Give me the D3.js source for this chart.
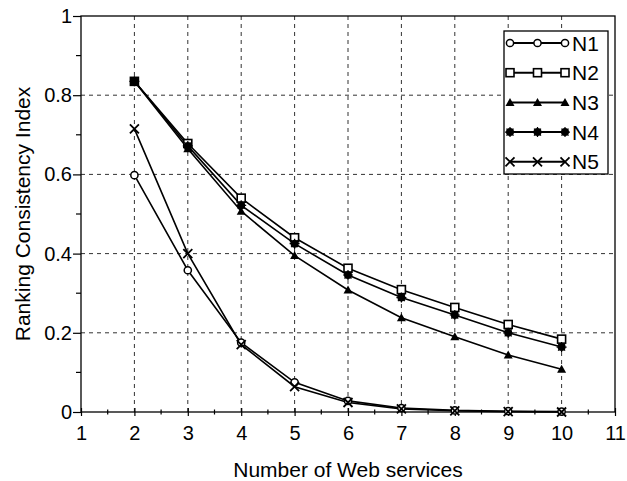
<!DOCTYPE html>
<meta charset="utf-8">
<style>
  body { margin: 0; background: #fff; }
  svg { font-family: "Liberation Sans", Arial, sans-serif; }
  .grid line { stroke: #333; stroke-dasharray: 4,4; stroke-width: 1; }
  .curve { fill: none; stroke: #000; stroke-width: 1.6; }
</style>
<body>
<script src="https://d3js.org/d3.v7.min.js"></script>
<script>
var xs = [2, 3, 4, 5, 6, 7, 8, 9, 10];
var n1 = [0.598, 0.358, 0.175, 0.075, 0.028, 0.010, 0.004, 0.002, 0.001];
var n2 = [0.835, 0.678, 0.540, 0.440, 0.363, 0.309, 0.264, 0.221, 0.184];
var n3 = [0.835, 0.665, 0.507, 0.395, 0.308, 0.238, 0.190, 0.144, 0.108];
var n4 = [0.835, 0.672, 0.522, 0.425, 0.346, 0.289, 0.245, 0.200, 0.164];
var n5 = [0.715, 0.400, 0.170, 0.064, 0.024, 0.008, 0.003, 0.001, 0.000];
var names = ["N1", "N2", "N3", "N4", "N5"];
var symbols = ["circle", "square", "triangle", "dot", "cross"];
var xTicks = [1, 2, 3, 4, 5, 6, 7, 8, 9, 10, 11];
var yTicks = [0, 0.2, 0.4, 0.6, 0.8, 1];

var width = 627, height = 481;
var pL = 81, pR = 615, pT = 16, pB = 412;

var x = d3.scaleLinear().domain([1, 11]).range([pL, pR]);
var y = d3.scaleLinear().domain([0, 1]).range([pB, pT]);

var svg = d3.select("body").append("svg")
    .attr("width", width)
    .attr("height", height);

// grid
var grid = svg.append("g").attr("class", "grid");
grid.selectAll(".vx").data(xTicks.slice(1, -1)).enter().append("line")
    .attr("x1", d => x(d)).attr("x2", d => x(d))
    .attr("y1", pT).attr("y2", pB);
grid.selectAll(".hy").data(yTicks.slice(1, -1)).enter().append("line")
    .attr("x1", pL).attr("x2", pR)
    .attr("y1", d => y(d)).attr("y2", d => y(d));

// frame
svg.append("rect")
    .attr("x", pL).attr("y", pT)
    .attr("width", pR - pL).attr("height", pB - pT)
    .attr("fill", "none").attr("stroke", "#000").attr("stroke-width", 1.3);

// axes
var xAxis = svg.append("g")
    .attr("transform", "translate(0," + pB + ")")
    .call(d3.axisBottom(x).tickValues(xTicks).tickFormat(d3.format("d")).tickSize(4).tickSizeOuter(0));
var yAxis = svg.append("g")
    .attr("transform", "translate(" + pL + ",0)")
    .call(d3.axisLeft(y).tickValues(yTicks).tickFormat(d => d === 0 || d === 1 ? d : d.toFixed(1)).tickSize(8).tickSizeOuter(0));

[xAxis, yAxis].forEach(function(a) {
  a.select(".domain").remove();
  a.selectAll("line").attr("stroke", "#000").attr("stroke-width", 1.2);
  a.selectAll("text").attr("fill", "#000").style("font-size", "20px");
});
xAxis.selectAll(".tick line").attr("y1", -4);
xAxis.selectAll(".tick text").attr("y", 14);
yAxis.selectAll(".tick text").attr("x", -9);

// minor ticks
svg.append("g").selectAll("line")
    .data(d3.range(1.5, 11, 1)).enter().append("line")
    .attr("x1", d => x(d)).attr("x2", d => x(d))
    .attr("y1", pB - 2.5).attr("y2", pB + 2.5)
    .attr("stroke", "#000").attr("stroke-width", 1.2);
svg.append("g").selectAll("line")
    .data(d3.range(0.1, 1, 0.2)).enter().append("line")
    .attr("x1", pL - 5).attr("x2", pL)
    .attr("y1", d => y(d)).attr("y2", d => y(d))
    .attr("stroke", "#000").attr("stroke-width", 1.2);

// axis titles
svg.append("text")
    .attr("x", (pL + pR) / 2).attr("y", 477)
    .attr("text-anchor", "middle")
    .style("font-size", "21px")
    .text("Number of Web services");
svg.append("text")
    .attr("transform", "translate(30," + (pT + pB) / 2 + ") rotate(-90)")
    .attr("text-anchor", "middle")
    .style("font-size", "21px")
    .text("Ranking Consistency Index");

function marker(g, type) {
  if (type === "circle") {
    g.append("circle").attr("r", 3.6).attr("fill", "#fff").attr("stroke", "#000").attr("stroke-width", 1.5);
  } else if (type === "square") {
    g.append("rect").attr("x", -4).attr("y", -4).attr("width", 8).attr("height", 8)
      .attr("fill", "#fff").attr("stroke", "#000").attr("stroke-width", 1.6);
  } else if (type === "triangle") {
    g.append("path").attr("d", "M0,-4.5L4.5,3.5L-4.5,3.5Z").attr("fill", "#000");
  } else if (type === "dot") {
    g.append("circle").attr("r", 4).attr("fill", "#000");
    g.append("path").attr("d", "M-5,0H5M0,-5V5M-3.5,-3.5L3.5,3.5M-3.5,3.5L3.5,-3.5")
      .attr("fill", "none").attr("stroke", "#000").attr("stroke-width", 1.2);
  } else {
    g.append("path").attr("d", "M-4.5,-4.5L4.5,4.5M-4.5,4.5L4.5,-4.5")
      .attr("fill", "none").attr("stroke", "#000").attr("stroke-width", 1.8);
  }
}

var series = [n1, n2, n3, n4, n5];
var line = d3.line().x((d, i) => x(xs[i])).y(d => y(d));

var sg = svg.append("g");
series.forEach(function(vals, k) {
  sg.append("path").attr("class", "curve").attr("d", line(vals));
});
series.forEach(function(vals, k) {
  vals.forEach(function(v, i) {
    var g = sg.append("g").attr("transform", "translate(" + x(xs[i]) + "," + y(v) + ")");
    marker(g, symbols[k]);
  });
});

// legend
var lg = svg.append("g");
lg.append("rect")
    .attr("x", 504).attr("y", 31).attr("width", 104).attr("height", 143)
    .attr("fill", "#fff").attr("stroke", "#000").attr("stroke-width", 1.3);
names.forEach(function(name, k) {
  var ly = 43 + k * 29.7;
  lg.append("line").attr("x1", 510).attr("x2", 565).attr("y1", ly).attr("y2", ly)
    .attr("stroke", "#000").attr("stroke-width", 2);
  [510, 537.5, 565].forEach(function(mx) {
    marker(lg.append("g").attr("transform", "translate(" + mx + "," + ly + ")"), symbols[k]);
  });
  lg.append("text").attr("x", 572).attr("y", ly + 7.5)
    .style("font-size", "21px").text(name);
});
</script>
</body>
